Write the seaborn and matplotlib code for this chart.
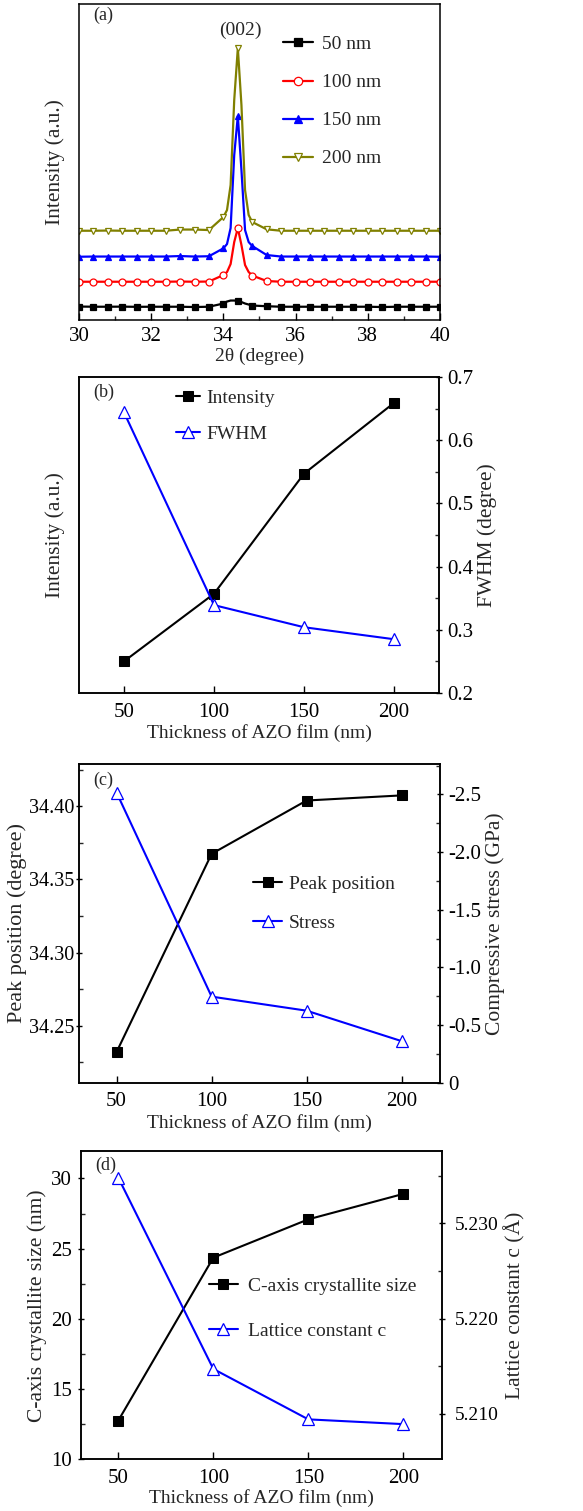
import matplotlib
matplotlib.use("Agg")
import matplotlib.pyplot as plt
import seaborn as sns
from matplotlib.ticker import FormatStrFormatter, MultipleLocator

# Panel (a): XRD patterns near the (002) peak (intensity in a.u.)
two_theta = [30.0, 30.4, 30.8, 31.2, 31.6, 32.0, 32.4, 32.8, 33.2, 33.6,
             34.0, 34.1, 34.2, 34.3, 34.4, 34.5, 34.6, 34.7, 34.8,
             35.2, 35.6, 36.0, 36.4, 36.8, 37.2, 37.6, 38.0, 38.4, 38.8, 39.2, 39.6, 40.0]
xrd_50 = [13.5, 13.3, 13.3, 13.4, 13.2, 13.3, 13.3, 13.3, 13.0, 13.3,
          16.5, 18.5, 19.5, 19.5, 19.0, 18.0, 16.5, 15.5, 14.5,
          13.8, 13.3, 13.3, 13.3, 13.3, 13.3, 13.3, 13.3, 13.0, 13.3, 13.3, 13.3, 13.3]
xrd_100 = [38.3, 38.3, 38.3, 38.3, 38.3, 38.3, 38.3, 38.5, 38.3, 38.5,
           45.0, 48.0, 56.0, 78.0, 92.0, 75.0, 55.0, 48.0, 44.5,
           39.0, 38.3, 38.3, 38.3, 38.3, 38.3, 38.3, 38.3, 38.3, 38.3, 38.3, 38.3, 38.3]
xrd_150 = [63.3, 63.5, 63.5, 63.5, 63.5, 63.5, 63.5, 64.0, 63.5, 63.8,
           71.7, 76.0, 92.0, 165.0, 204.0, 150.0, 90.0, 78.0, 74.0,
           65.0, 63.5, 63.5, 63.5, 63.5, 63.5, 63.5, 63.5, 63.5, 63.5, 63.5, 63.5, 63.3]
xrd_200 = [89.3, 89.3, 89.5, 89.3, 89.3, 89.3, 89.3, 90.5, 90.5, 90.0,
           103.0, 110.0, 135.0, 220.0, 272.0, 215.0, 130.0, 105.0, 98.0,
           90.7, 89.3, 89.3, 89.3, 89.3, 89.3, 89.3, 89.3, 89.3, 89.3, 89.3, 89.3, 89.3]
marker_idx = [0, 1, 2, 3, 4, 5, 6, 7, 8, 9, 10, 14, 18, 19, 20, 21, 22, 23,
              24, 25, 26, 27, 28, 29, 30, 31]

# Panels (b)-(d): properties vs film thickness
thickness = [50, 100, 150, 200]
intensity = [0.250, 0.357, 0.547, 0.659]
fwhm = [0.644, 0.339, 0.304, 0.285]
peak_pos = [34.232, 34.3675, 34.404, 34.4075]
stress = [-2.515, -0.746, -0.624, -0.36]
stress_ticks = [0, -0.5, -1.0, -1.5, -2.0, -2.5]
stress_labels = ['0', '-0.5', '-1.0', '-1.5', '-2.0', '-2.5']
crystallite = [12.76, 24.36, 27.09, 28.9]
lattice_c = [5.2348, 5.2147, 5.2094, 5.2089]

sns.set_style("ticks")
plt.rcParams['font.family'] = ['Liberation Serif', 'DejaVu Serif']
plt.rcParams['axes.unicode_minus'] = False
plt.rcParams['axes.linewidth'] = 1.1
plt.rcParams['axes.edgecolor'] = 'black'

TICK_FS = 15     # tick labels
XL_FS = 14       # x axis labels
YL_FS = 15.5     # y axis labels
LEG_FS = 14      # legends
OLIVE = '#808000'

fig = plt.figure(figsize=(5.83, 15.11), dpi=100)
ax_a = fig.add_axes([0.1355, 0.7882, 0.6192, 0.2091])
ax_b = fig.add_axes([0.1355, 0.5414, 0.6175, 0.2091])
ax_c = fig.add_axes([0.1355, 0.2835, 0.6192, 0.2109])
ax_d = fig.add_axes([0.1384, 0.0342, 0.6192, 0.2040])


def style_ticks(ax, inward_x=False):
    ax.tick_params(axis='both', which='major', labelsize=TICK_FS, direction='inout',
                   length=5, width=1.0, colors='black')
    ax.tick_params(axis='both', which='minor', direction='in', length=3, width=1.0)
    if inward_x:
        ax.tick_params(axis='x', which='major', direction='in', length=5, pad=5)
        ax.tick_params(axis='x', which='minor', direction='in', length=3)
    else:
        ax.tick_params(axis='x', which='major', direction='in', length=5, pad=7)
    ax.tick_params(axis='x', which='both', top=False)


# ---------- (a) XRD patterns ----------
series_a = [(xrd_50, '50 nm', 'black', 's', 'black'),
            (xrd_100, '100 nm', 'red', 'o', 'white'),
            (xrd_150, '150 nm', 'blue', '^', 'blue'),
            (xrd_200, '200 nm', OLIVE, 'v', 'white')]
for yv, lab, col, mk, face in series_a:
    sns.lineplot(x=two_theta, y=yv, ax=ax_a, color=col, marker=mk, markersize=5,
                 markerfacecolor=face, markeredgecolor=col, markeredgewidth=0.9,
                 markevery=marker_idx, linewidth=1.6, label=lab, sort=False)
ax_a.set_xlim(30, 40)
ax_a.set_ylim(0, 316)
ax_a.set_yticks([])
ax_a.xaxis.set_major_locator(MultipleLocator(2))
ax_a.xaxis.set_minor_locator(MultipleLocator(1))
style_ticks(ax_a, inward_x=True)
ax_a.set_xlabel('2θ (degree)', fontsize=XL_FS, labelpad=1)
ax_a.set_ylabel('Intensity (a.u.)', fontsize=YL_FS, labelpad=10)
ax_a.text(34.48, 290, '(002)', fontsize=XL_FS, ha='center', va='center')
ax_a.text(0.039, 0.965, '(a)', transform=ax_a.transAxes, fontsize=13, va='center')
ax_a.legend(loc='upper left', bbox_to_anchor=(0.565, 0.90), frameon=False,
            fontsize=LEG_FS, borderpad=0, borderaxespad=0, handlelength=1.55,
            handletextpad=0.45, labelspacing=1.05, markerscale=1.2)

# ---------- (b) Intensity & FWHM ----------
ax_b2 = ax_b.twinx()
sns.lineplot(x=thickness, y=intensity, ax=ax_b, color='black', marker='s',
             markersize=7, markeredgecolor='black', linewidth=1.5, label='Intensity')
sns.lineplot(x=thickness, y=fwhm, ax=ax_b2, color='blue', marker='^', markersize=9,
             markerfacecolor='white', markeredgecolor='blue', markeredgewidth=0.9,
             linewidth=1.5, label='FWHM')
ax_b.set_xlim(25, 225)
ax_b.set_ylim(0.2, 0.7)
ax_b2.set_ylim(0.2, 0.7)
ax_b.set_yticks([])
ax_b.set_xticks(thickness)
ax_b2.yaxis.set_major_locator(MultipleLocator(0.1))
ax_b2.yaxis.set_minor_locator(MultipleLocator(0.05))
ax_b2.yaxis.set_major_formatter(FormatStrFormatter('%.1f'))
style_ticks(ax_b)
style_ticks(ax_b2)
ax_b.set_xlabel('Thickness of AZO film (nm)', fontsize=XL_FS, labelpad=2)
ax_b.set_ylabel('Intensity (a.u.)', fontsize=YL_FS, labelpad=10)
ax_b2.set_ylabel('FWHM (degree)', fontsize=YL_FS, labelpad=3)
ax_b.text(0.039, 0.953, '(b)', transform=ax_b.transAxes, fontsize=13, va='center')
h1, l1 = ax_b.get_legend_handles_labels()
h2, l2 = ax_b2.get_legend_handles_labels()
ax_b2.get_legend().remove()
ax_b.legend(h1 + h2, l1 + l2, loc='upper left', bbox_to_anchor=(0.269, 0.962),
            frameon=False, fontsize=LEG_FS, borderpad=0, borderaxespad=0,
            handlelength=1.25, handletextpad=0.3, labelspacing=0.97)

# ---------- (c) Peak position & stress ----------
ax_c2 = ax_c.twinx()
sns.lineplot(x=thickness, y=peak_pos, ax=ax_c, color='black', marker='s',
             markersize=7, markeredgecolor='black', linewidth=1.5, label='Peak position')
sns.lineplot(x=thickness, y=stress, ax=ax_c2, color='blue', marker='^', markersize=9,
             markerfacecolor='white', markeredgecolor='blue', markeredgewidth=0.9,
             linewidth=1.5, label='Stress')
ax_c.set_xlim(30.2, 220.2)
ax_c.set_ylim(34.211, 34.429)
ax_c2.set_ylim(0, -2.764)
ax_c.set_xticks(thickness)
ax_c.yaxis.set_major_locator(MultipleLocator(0.05))
ax_c.yaxis.set_minor_locator(MultipleLocator(0.025))
ax_c.yaxis.set_major_formatter(FormatStrFormatter('%.2f'))
ax_c2.set_yticks(stress_ticks, labels=stress_labels)
ax_c2.yaxis.set_minor_locator(MultipleLocator(0.25))
style_ticks(ax_c)
style_ticks(ax_c2)
ax_c.tick_params(axis='y', pad=1, labelsize=14.5)
ax_c.set_xlabel('Thickness of AZO film (nm)', fontsize=XL_FS, labelpad=2)
ax_c.set_ylabel('Peak position (degree)', fontsize=YL_FS + 0.5, labelpad=1)
ax_c2.set_ylabel('Compressive stress (GPa)', fontsize=YL_FS, labelpad=3)
ax_c.text(0.039, 0.95, '(c)', transform=ax_c.transAxes, fontsize=13, va='center')
h1, l1 = ax_c.get_legend_handles_labels()
h2, l2 = ax_c2.get_legend_handles_labels()
ax_c2.get_legend().remove()
ax_c.legend(h1 + h2, l1 + l2, loc='upper left', bbox_to_anchor=(0.482, 0.65),
            frameon=False, fontsize=LEG_FS, borderpad=0, borderaxespad=0,
            handlelength=1.5, handletextpad=0.35, labelspacing=1.08)

# ---------- (d) Crystallite size & lattice constant ----------
ax_d2 = ax_d.twinx()
sns.lineplot(x=thickness, y=crystallite, ax=ax_d, color='black', marker='s',
             markersize=7, markeredgecolor='black', linewidth=1.5,
             label='C-axis crystallite size')
sns.lineplot(x=thickness, y=lattice_c, ax=ax_d2, color='blue', marker='^', markersize=9,
             markerfacecolor='white', markeredgecolor='blue', markeredgewidth=0.9,
             linewidth=1.5, label='Lattice constant c')
ax_d.set_xlim(30.2, 220.2)
ax_d.set_ylim(10, 31.95)
ax_d2.set_ylim(5.2052, 5.2376)
ax_d.set_xticks(thickness)
ax_d.yaxis.set_major_locator(MultipleLocator(5))
ax_d.yaxis.set_minor_locator(MultipleLocator(2.5))
ax_d2.yaxis.set_major_locator(MultipleLocator(0.01))
ax_d2.yaxis.set_minor_locator(MultipleLocator(0.005))
ax_d2.yaxis.set_major_formatter(FormatStrFormatter('%.3f'))
style_ticks(ax_d)
style_ticks(ax_d2)
ax_d.tick_params(axis='y', pad=4)
ax_d2.tick_params(axis='y', pad=7, labelsize=14)
ax_d.set_xlabel('Thickness of AZO film (nm)', fontsize=XL_FS, labelpad=1)
ax_d.set_ylabel('C-axis crystallite size (nm)', fontsize=YL_FS, labelpad=3)
ax_d2.set_ylabel('Lattice constant c (Å)', fontsize=YL_FS, labelpad=4)
ax_d.text(0.039, 0.955, '(d)', transform=ax_d.transAxes, fontsize=13, va='center')
h1, l1 = ax_d.get_legend_handles_labels()
h2, l2 = ax_d2.get_legend_handles_labels()
ax_d2.get_legend().remove()
ax_d.legend(h1 + h2, l1 + l2, loc='upper left', bbox_to_anchor=(0.355, 0.59),
            frameon=False, fontsize=LEG_FS, borderpad=0, borderaxespad=0,
            handlelength=1.5, handletextpad=0.5, labelspacing=1.39)

fig.savefig('out.png', dpi=100)
